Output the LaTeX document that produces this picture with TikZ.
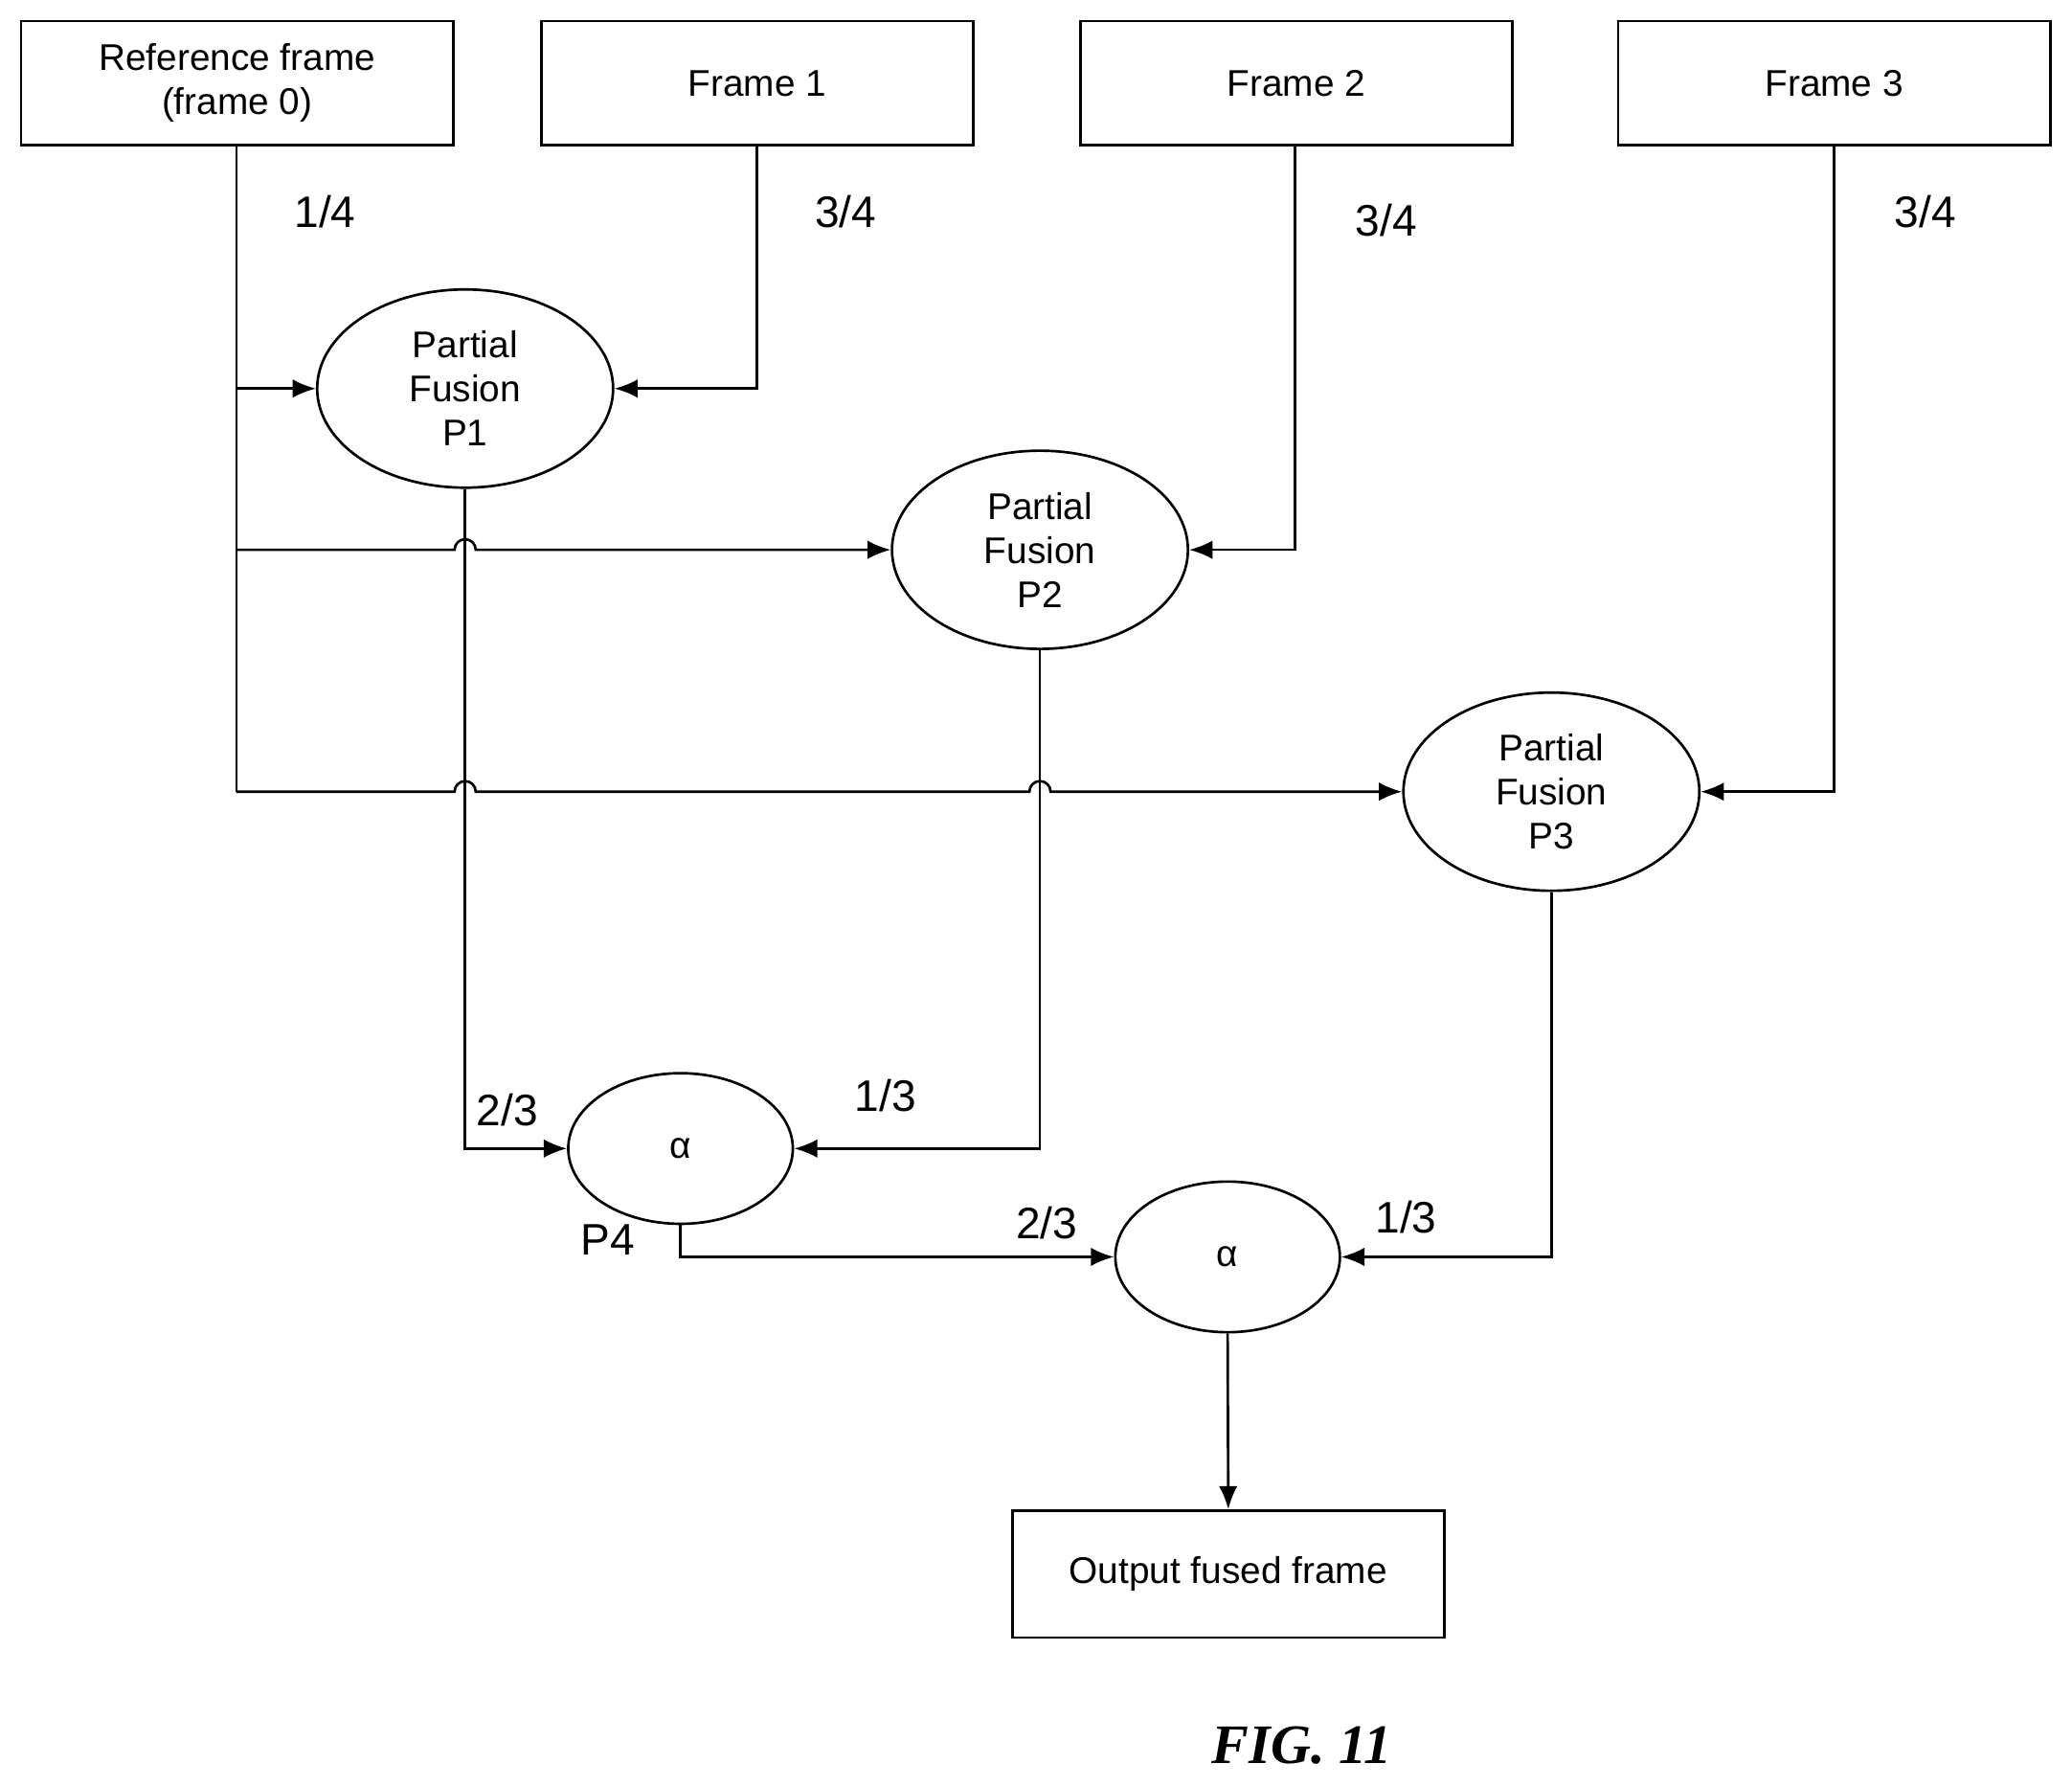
\documentclass[tikz,border=0pt]{standalone}
\usepackage{fontspec}
\setmainfont{Liberation Sans}
\newfontfamily\figfont{Liberation Serif}
\usetikzlibrary{shapes.geometric,arrows.meta}
\begin{document}
\begin{tikzpicture}[x=0.02cm,y=-0.02cm,line width=1.1pt,
  box/.style={draw,rectangle,minimum width=6.54cm,minimum height=1.88cm,inner sep=0,align=center,font=\fontsize{16}{19}\selectfont},
  big/.style={draw,ellipse,minimum width=4.48cm,minimum height=3cm,inner sep=0,align=center,font=\fontsize{16}{19}\selectfont},
  small/.style={draw,ellipse,minimum width=3.4cm,minimum height=2.28cm,inner sep=0,font=\fontsize{16}{19}\selectfont},
  lab/.style={font=\fontsize{19}{22}\selectfont},
  arr/.style={-{Latex[length=10pt,width=8pt]}}]
\useasboundingbox (0,0) rectangle (1568,1351);
\node[box] (r) at (179.5,63) {Reference frame\\(frame 0)};
\node[box] (f1) at (573,63) {Frame 1};
\node[box] (f2) at (981,63) {Frame 2};
\node[box] (f3) at (1388,63) {Frame 3};
\node[big] (p1) at (352,294) {Partial\\Fusion\\P1};
\node[big] (p2) at (787,416) {Partial\\Fusion\\P2};
\node[big] (p3) at (1174,599) {Partial\\Fusion\\P3};
\node[small] (a1) at (515,869) {α};
\node[small] (a2) at (929,951) {α};
\node[box,minimum height=1.92cm] (o) at (929.5,1191) {Output fused frame};
\coordinate (rb) at (179,599);
\draw (r.south -| 179,0) -- (rb);
\draw[arr] (179,294) -- (p1.west);
\draw[arr] (179,416) -- (344,416) arc (180:360:8) -- (p2.west);
\draw[arr] (rb) -- (344,599) arc (180:360:8) -- (779,599) arc (180:360:8) -- (p3.west);
\draw[arr] (f1.south) |- (p1.east);
\draw[arr] (f2.south -| 980,0) |- (p2.east);
\draw[arr] (f3.south) |- (p3.east);
\draw[arr] (p1.south) |- (a1.west);
\draw[arr] (p2.south) |- (a1.east);
\draw[arr] (p3.south) |- (a2.east);
\draw[arr] (a1.south) |- (a2.west);
\draw[arr] (a2.south) -- (o.north);
\node[lab] (l1) at (246,160) {1/4};
\node[lab] (l2) at (640,160) {3/4};
\node[lab] (l3) at (1049,167) {3/4};
\node[lab] (l4) at (1457,160) {3/4};
\node[lab] (l5) at (384,840) {2/3};
\node[lab] (l6) at (670,829) {1/3};
\node[lab] (l7) at (460,938) {P4};
\node[lab] (l8) at (792,925) {2/3};
\node[lab] (l9) at (1064,921) {1/3};
\node[font=\figfont\bfseries\itshape\fontsize{24}{28}\selectfont] (fig) at (985,1321) {FIG. 11};
\end{tikzpicture}
\end{document}
